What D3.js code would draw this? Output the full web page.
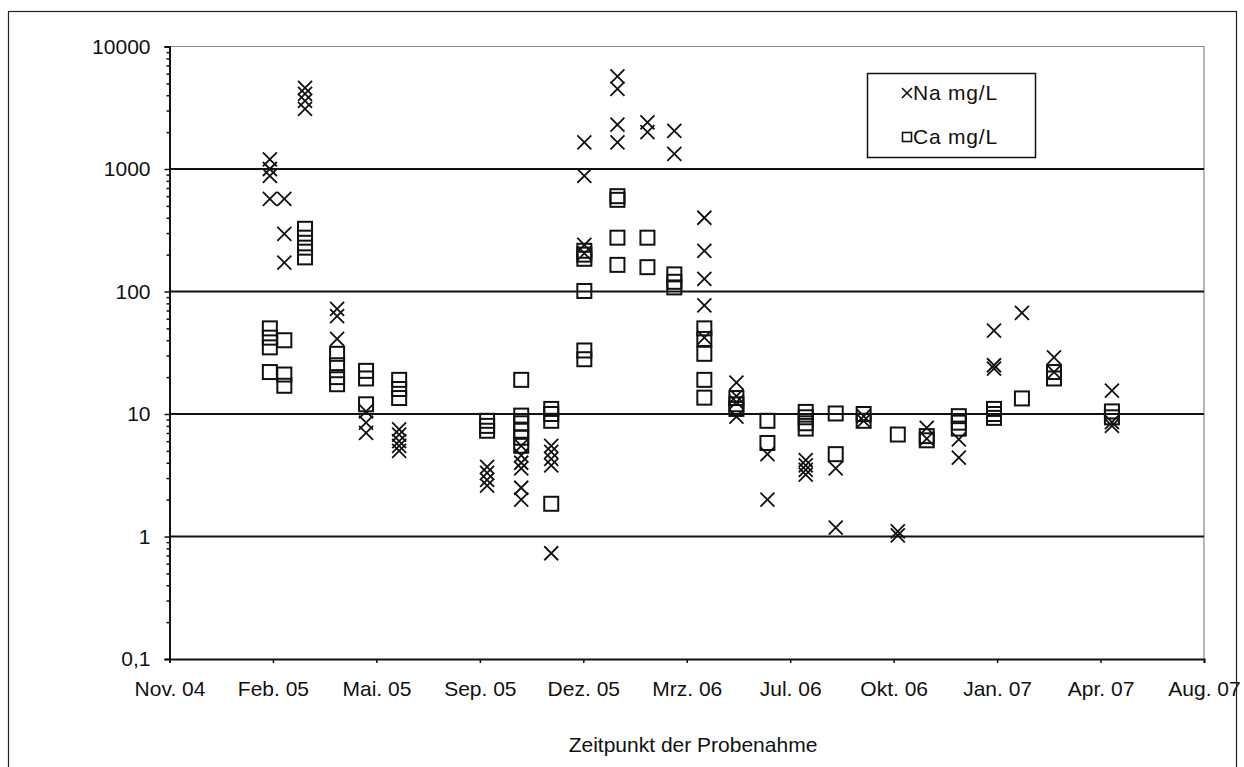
<!DOCTYPE html>
<html>
<head>
<meta charset="utf-8">
<script src="https://cdn.jsdelivr.net/npm/d3@7"></script>
<style>
  body { margin: 0; background: #fff; }
  text { font-family: "Liberation Sans", Arial, sans-serif; fill: #111; }
</style>
</head>
<body>
<svg width="1244" height="767"></svg>
<script>
// Sampling dates (one column of markers per date)
const sampleDates = [
  "2005-02-14", "2005-02-28", "2005-03-20", "2005-04-20", "2005-05-18", "2005-06-19",
  "2005-09-12", "2005-10-15", "2005-11-13", "2005-12-15", "2006-01-16", "2006-02-14",
  "2006-03-12", "2006-04-10", "2006-05-11", "2006-06-10", "2006-07-17", "2006-08-15",
  "2006-09-11", "2006-10-14", "2006-11-11", "2006-12-12", "2007-01-15", "2007-02-11",
  "2007-03-14", "2007-05-09"
];

// Na mg/L per sampling date
const naValues = [
  [1200, 1000, 880, 570], [570, 296, 172], [4600, 4100, 3600, 3100], [72, 63, 41],
  [10.5, 8.5, 7], [7.5, 6.8, 6, 5.5, 5],
  [3.7, 3.3, 2.9, 2.6], [5.5, 4.6, 4, 3.6, 2.5, 2.0], [5.5, 4.9, 4.3, 3.8, 0.73],
  [1650, 880, 240, 205], [5700, 4500, 2300, 1650], [2400, 2000],
  [2050, 1330], [400, 215, 127, 77, 42], [18, 14, 12.5, 9.5], [4.7, 2.0],
  [4.2, 3.8, 3.5, 3.2], [3.6, 1.18], [9.6, 8.8], [1.1, 1.02], [7.7, 6.3],
  [6.2, 4.4], [48, 25, 23.5], [67], [29, 22], [15.5, 8.6, 8]
];

// Ca mg/L per sampling date
const caValues = [
  [50, 42, 35, 22], [40, 21, 17], [325, 275, 228, 190], [31, 25, 20, 17.5],
  [22.5, 19.5, 12], [19, 16, 13.5],
  [8.8, 8, 7.3], [19, 9.7, 8.4, 7.3, 6.4, 5.5], [11, 10, 8.8, 1.85],
  [215, 200, 185, 101, 33, 28], [600, 560, 275, 165], [275, 158],
  [138, 120, 108], [50, 41, 31, 19, 13.6], [13.5, 12, 11], [8.8, 5.8],
  [10.4, 9.4, 8.4, 7.6], [10.1, 4.7], [10, 8.8], [6.8], [6.6, 6.1],
  [9.6, 8.5, 7.6], [11, 10, 9.3], [13.4], [22, 19.5], [10.5, 9.4]
];

// Axis ticks
const xTickDates = [
  "2004-11-09", "2005-02-17", "2005-05-28", "2005-09-05", "2005-12-14", "2006-03-24",
  "2006-07-02", "2006-10-10", "2007-01-18", "2007-04-28", "2007-08-06"
];
const xTickLabels = [
  "Nov. 04", "Feb. 05", "Mai. 05", "Sep. 05", "Dez. 05", "Mrz. 06",
  "Jul. 06", "Okt. 06", "Jan. 07", "Apr. 07", "Aug. 07"
];
const yTickValues = [0.1, 1, 10, 100, 1000, 10000];
const yTickLabels = ["0,1", "1", "10", "100", "1000", "10000"];

const parseDate = d3.utcParse("%Y-%m-%d");

const svg = d3.select("svg");

// Plot area edges
const plot = { left: 169.5, right: 1204, top: 46.5, bottom: 659 };

// Outer frame (bottom edge runs off the picture)
svg.append("rect")
  .attr("x", 8.5).attr("y", 11.5)
  .attr("width", 1228).attr("height", 760)
  .attr("fill", "none")
  .attr("stroke", "#222")
  .attr("stroke-width", 1.2);

const xScale = d3.scaleUtc()
  .domain([parseDate(xTickDates[0]), parseDate(xTickDates[xTickDates.length - 1])])
  .range([plot.left, plot.right]);

const yScale = d3.scaleLog()
  .domain([0.1, 10000])
  .range([plot.bottom, plot.top]);

// Plot area border (grey, top and right)
svg.append("path")
  .attr("d", `M${plot.left},${plot.top}H${plot.right}V${plot.bottom}`)
  .attr("fill", "none")
  .attr("stroke", "#888")
  .attr("stroke-width", 1.2);

// Horizontal gridlines
svg.append("g")
  .selectAll("line")
  .data(yTickValues.filter(v => v > 0.1 && v < 10000))
  .join("line")
  .attr("x1", plot.left).attr("x2", plot.right)
  .attr("y1", d => yScale(d)).attr("y2", d => yScale(d))
  .attr("stroke", "#111")
  .attr("stroke-width", 2);

// Minor log ticks on y-axis
const minorTicks = [];
yTickValues.slice(0, -1).forEach(v => {
  for (let k = 2; k <= 9; k++) minorTicks.push(v * k);
});
svg.append("g")
  .attr("transform", `translate(${plot.left}, 0)`)
  .call(d3.axisLeft(yScale).tickValues(minorTicks).tickSize(3).tickFormat(""))
  .call(g => g.select(".domain").remove())
  .call(g => g.selectAll("line").attr("stroke", "#111").attr("stroke-width", 1.5));

// Y axis
svg.append("g")
  .attr("transform", `translate(${plot.left}, 0)`)
  .call(d3.axisLeft(yScale)
    .tickValues(yTickValues)
    .tickSize(5)
    .tickPadding(14)
    .tickFormat((d, i) => yTickLabels[i]))
  .call(g => g.select(".domain").attr("stroke", "#111").attr("stroke-width", 2))
  .call(g => g.selectAll("line").attr("stroke", "#111").attr("stroke-width", 1.5))
  .call(g => g.selectAll("text")
    .attr("font-size", 21)
    .attr("font-family", "Liberation Sans, Arial, sans-serif")
    .attr("fill", "#111"));

// X axis
svg.append("g")
  .attr("transform", `translate(0, ${plot.bottom})`)
  .call(d3.axisBottom(xScale)
    .tickValues(xTickDates.map(parseDate))
    .tickSize(4)
    .tickPadding(18)
    .tickFormat((d, i) => xTickLabels[i]))
  .call(g => g.select(".domain").attr("stroke", "#111").attr("stroke-width", 2))
  .call(g => g.selectAll("line").attr("stroke", "#111").attr("stroke-width", 1.5))
  .call(g => g.selectAll("text")
    .attr("font-size", 21)
    .attr("font-family", "Liberation Sans, Arial, sans-serif")
    .attr("fill", "#111"));

// X axis title
svg.append("text")
  .attr("x", 693)
  .attr("y", 752)
  .attr("text-anchor", "middle")
  .attr("font-size", 21)
  .text("Zeitpunkt der Probenahme");

// Flatten series into points
const naPoints = [];
const caPoints = [];
sampleDates.forEach((d, i) => {
  naValues[i].forEach(v => naPoints.push({ date: parseDate(d), value: v }));
  caValues[i].forEach(v => caPoints.push({ date: parseDate(d), value: v }));
});

const crossPath = s => `M${-s},${-s}L${s},${s}M${-s},${s}L${s},${-s}`;

// Na markers (crosses)
svg.append("g")
  .selectAll("path")
  .data(naPoints)
  .join("path")
  .attr("transform", d => `translate(${xScale(d.date)}, ${yScale(d.value)})`)
  .attr("d", crossPath(7))
  .attr("fill", "none")
  .attr("stroke", "#111")
  .attr("stroke-width", 1.8);

// Ca markers (hollow squares)
svg.append("g")
  .selectAll("rect")
  .data(caPoints)
  .join("rect")
  .attr("x", d => xScale(d.date) - 7)
  .attr("y", d => yScale(d.value) - 7)
  .attr("width", 14)
  .attr("height", 14)
  .attr("fill", "none")
  .attr("stroke", "#111")
  .attr("stroke-width", 2);

// Legend
const legend = svg.append("g");
legend.append("rect")
  .attr("x", 867.5).attr("y", 73.5)
  .attr("width", 168).attr("height", 84)
  .attr("fill", "#fff")
  .attr("stroke", "#111")
  .attr("stroke-width", 1.5);

legend.append("path")
  .attr("transform", "translate(907, 93)")
  .attr("d", crossPath(5))
  .attr("stroke", "#111")
  .attr("stroke-width", 1.6);
legend.append("text")
  .attr("x", 913).attr("y", 100)
  .attr("font-size", 21)
  .attr("letter-spacing", 0.8)
  .text("Na mg/L");

legend.append("rect")
  .attr("x", 902.5).attr("y", 132.5)
  .attr("width", 9).attr("height", 9)
  .attr("fill", "none")
  .attr("stroke", "#111")
  .attr("stroke-width", 1.6);
legend.append("text")
  .attr("x", 913).attr("y", 144)
  .attr("font-size", 21)
  .attr("letter-spacing", 0.8)
  .text("Ca mg/L");
</script>
</body>
</html>
